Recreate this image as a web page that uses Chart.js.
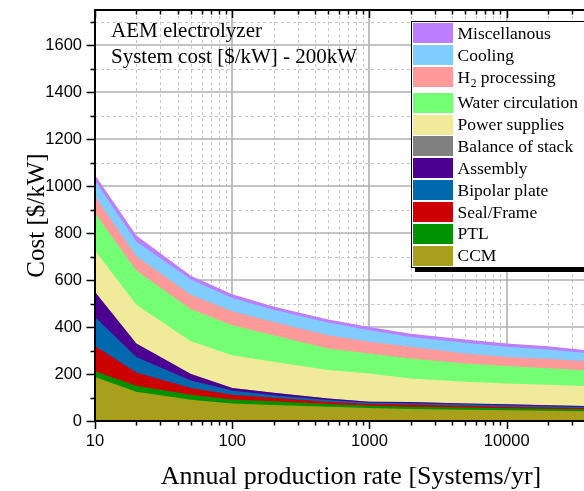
<!DOCTYPE html>
<html><head><meta charset="utf-8">
<script src="https://cdn.jsdelivr.net/npm/chart.js@4"></script>
<style>html,body{margin:0;padding:0;background:#fff;overflow:hidden}#wrap{width:584px;height:491px}</style>
</head><body><div id="wrap"><canvas id="c" width="584" height="491"></canvas></div>
<script>
// ---- data ----
const productionRates = [10, 20, 50, 100, 200, 500, 1000, 2000, 5000, 10000, 20000, 50000];
const ccm              = [187, 125, 91, 75, 68, 61, 55, 51, 48, 46, 44, 41];
const ptl              = [25, 25, 21, 17, 16, 11, 10, 10, 9, 8, 8, 8];
const sealFrame        = [107, 57, 28, 20, 15, 10, 7, 9, 8, 7, 6, 5];
const bipolarPlate     = [124, 66, 32, 18, 11, 7, 6, 6, 6, 6, 5, 4];
const assembly         = [106, 57, 28, 10, 10, 7, 4, 5, 4, 4, 4, 4];
const balanceOfStack   = [0, 0, 0, 0, 0, 0, 0, 0, 0, 0, 0, 0];
const powerSupplies    = [177, 165, 140, 140, 132, 121, 120, 100, 92, 89, 87, 84];
const waterCirculation = [160, 146, 136, 128, 113, 92, 85, 85, 78, 74, 71, 66];
const h2Processing     = [71, 61, 62, 59, 57, 56, 50, 50, 42, 39, 40, 38];
const cooling          = [66, 62, 64, 57, 52, 54, 49, 42, 46, 43, 39, 33];
const miscellaneous    = [24, 26, 16, 16, 14, 13, 14, 14, 14, 14, 14, 11];

const seriesNames = ['CCM', 'PTL', 'Seal/Frame', 'Bipolar plate', 'Assembly', 'Balance of stack',
  'Power supplies', 'Water circulation', 'H2 processing', 'Cooling', 'Miscellanous'];
const seriesColors = ['#a89f1a', '#009100', '#cc0000', '#0068ad', '#4b0091', '#808080',
  '#f0ea9a', '#74ff74', '#ff9a9a', '#80ccff', '#bd7dff'];
const layers = [ccm, ptl, sealFrame, bipolarPlate, assembly, balanceOfStack,
  powerSupplies, waterCirculation, h2Processing, cooling, miscellaneous];

const xTickLabels = ['10', '100', '1000', '10000'];
const yTickLabels = ['0', '200', '400', '600', '800', '1000', '1200', '1400', '1600'];
const titleLines = ['AEM electrolyzer', 'System cost [$/kW] - 200kW'];
const xTitle = 'Annual production rate [Systems/yr]';
const yTitle = 'Cost [$/kW]';

const X_MIN = 10, X_MAX = 36600, Y_MIN = 0, Y_MAX = 1750;

function xTickValues() {
  const v = [];
  for (let d = 10; d <= X_MAX; d *= 10)
    for (let k = 1; k <= 9; k++) { const t = d * k; if (t >= X_MIN && t <= X_MAX) v.push(t); }
  return v;
}
function yTickValues() { const v = []; for (let t = 0; t <= 1700; t += 100) v.push(t); return v; }
const isDecade = v => Math.abs(Math.log10(v) - Math.round(Math.log10(v))) < 1e-9;

const serif = "'Liberation Serif', 'Times New Roman', serif";
const sans = "'Liberation Sans', Arial, sans-serif";

const decorPlugin = {
  id: 'decor',
  beforeDatasetsDraw(chart) {
    const { ctx, chartArea: a, scales: { x, y } } = chart;
    ctx.save();
    ctx.beginPath(); ctx.rect(a.left, a.top, a.right - a.left, a.bottom - a.top); ctx.clip();
    const vline = (px, dash, col, w) => { ctx.setLineDash(dash); ctx.strokeStyle = col; ctx.lineWidth = w;
      ctx.beginPath(); ctx.moveTo(px, a.top); ctx.lineTo(px, a.bottom); ctx.stroke(); };
    const hline = (py, dash, col, w) => { ctx.setLineDash(dash); ctx.strokeStyle = col; ctx.lineWidth = w;
      ctx.beginPath(); ctx.moveTo(a.left, py); ctx.lineTo(a.right, py); ctx.stroke(); };
    xTickValues().forEach(v => { if (!isDecade(v)) vline(Math.round(x.getPixelForValue(v)) + 0.5, [3, 3], '#c6c6c6', 1); });
    yTickValues().forEach(v => { if (v % 200 !== 0) hline(Math.round(y.getPixelForValue(v)) + 0.5, [3, 3], '#c6c6c6', 1); });
    xTickValues().forEach(v => { if (isDecade(v)) vline(Math.round(x.getPixelForValue(v)), [], '#b0b0b0', 1.6); });
    yTickValues().forEach(v => { if (v % 200 === 0 && v > 0) hline(Math.round(y.getPixelForValue(v)), [], '#b0b0b0', 1.6); });
    ctx.restore();
  },
  afterDraw(chart) {
    const { ctx, chartArea: a, scales: { x, y } } = chart;
    ctx.save();
    ctx.setLineDash([]);
    ctx.strokeStyle = '#000';
    // frame
    ctx.lineWidth = 2;
    ctx.beginPath();
    ctx.moveTo(a.left, a.top); ctx.lineTo(a.right, a.top);
    ctx.moveTo(a.left, a.top - 1); ctx.lineTo(a.left, a.bottom + 1);
    ctx.moveTo(a.left - 1, a.bottom); ctx.lineTo(a.right, a.bottom);
    ctx.stroke();
    // ticks
    ctx.lineWidth = 1.5;
    ctx.beginPath();
    xTickValues().forEach(v => {
      const px = Math.round(x.getPixelForValue(v)) + 0.5;
      const len = isDecade(v) ? 8 : 4.5;
      ctx.moveTo(px, a.bottom); ctx.lineTo(px, a.bottom + len);
      ctx.moveTo(px, a.top); ctx.lineTo(px, a.top + len);
    });
    yTickValues().forEach(v => {
      const py = Math.round(y.getPixelForValue(v)) + 0.5;
      const len = v % 200 === 0 ? 8.5 : 4.5;
      ctx.moveTo(a.left, py); ctx.lineTo(a.left - len, py);
    });
    ctx.stroke();

    // x axis title
    ctx.fillStyle = '#000';
    ctx.font = '26px ' + serif;
    ctx.textAlign = 'center'; ctx.textBaseline = 'alphabetic';
    ctx.fillText(xTitle, 351, 484);

    // annotation text
    ctx.font = '21px ' + serif;
    ctx.textAlign = 'left';
    ctx.fillText(titleLines[0], 111, 37);
    ctx.fillText(titleLines[1], 111, 63);

    // legend
    const L = 411, T = 21, W = 200, H = 246;
    ctx.fillStyle = '#000';
    ctx.fillRect(L + 4, T + 4, W, H + 1);
    ctx.fillStyle = '#fff';
    ctx.fillRect(L, T, W, H);
    ctx.lineWidth = 1;
    ctx.strokeRect(L + 0.5, T + 0.5, W, H);
    let top = 23.3;
    const n = seriesNames.length;
    for (let k = 0; k < n; k++) {
      const i = n - 1 - k;
      ctx.fillStyle = seriesColors[i];
      ctx.fillRect(413, Math.round(top), 40, 20);
      ctx.fillStyle = '#000';
      ctx.font = '17.5px ' + serif;
      const base = top + 15.7;
      const name = seriesNames[i];
      if (name.startsWith('H2')) {
        ctx.fillText('H', 457.5, base);
        const wH = ctx.measureText('H').width;
        ctx.font = '11.5px ' + serif;
        ctx.fillText('2', 457.5 + wH + 0.5, base + 4);
        const w2 = ctx.measureText('2').width;
        ctx.font = '17.5px ' + serif;
        ctx.fillText(name.slice(2), 457.5 + wH + w2 + 0.5, base);
        top += 3.8;
      } else {
        ctx.fillText(name, 457.5, base);
      }
      top += 21.85;
    }
    ctx.restore();
  }
};

const datasets = layers.map((arr, i) => ({
  label: seriesNames[i],
  data: productionRates.map((xv, j) => ({ x: xv, y: arr[j] })),
  backgroundColor: seriesColors[i],
  borderColor: 'rgba(0,0,0,0)',
  borderWidth: 0,
  pointRadius: 0,
  pointHoverRadius: 0,
  fill: 'origin',
  tension: 0
}));

new Chart(document.getElementById('c'), {
  type: 'line',
  data: { datasets },
  options: {
    responsive: false,
    devicePixelRatio: 1,
    animation: false,
    events: [],
    layout: { padding: { top: 10, right: 0, left: 0, bottom: 0 } },
    plugins: { legend: { display: false }, tooltip: { enabled: false } },
    scales: {
      x: {
        type: 'logarithmic', min: X_MIN, max: X_MAX,
        afterBuildTicks: s => { s.ticks = xTickValues().map(v => ({ value: v })); },
        afterFit: s => { s.height = 70; s.paddingLeft = 0; s.paddingRight = 0; },
        grid: { drawOnChartArea: false, drawTicks: false },
        border: { display: false },
        ticks: {
          autoSkip: false, maxRotation: 0, padding: 11, color: '#000',
          font: { family: sans, size: 16.5 },
          callback: v => (isDecade(v) && xTickLabels.includes(String(v))) ? String(v) : ''
        },
        title: { display: false }
      },
      y: {
        stacked: true, min: Y_MIN, max: Y_MAX,
        afterBuildTicks: s => { s.ticks = yTickValues().map(v => ({ value: v })); },
        afterFit: s => { s.width = 95; s.paddingTop = 0; s.paddingBottom = 0; },
        grid: { drawOnChartArea: false, drawTicks: false },
        border: { display: false },
        ticks: {
          autoSkip: false, padding: 13, color: '#000',
          font: { family: sans, size: 16.5 },
          callback: v => yTickLabels.includes(String(v)) ? String(v) : ''
        },
        title: { display: true, text: yTitle, color: '#000', font: { family: serif, size: 25, lineHeight: 1.2 }, padding: { top: 22, bottom: 0 } }
      }
    }
  },
  plugins: [decorPlugin]
});
</script></body></html>
